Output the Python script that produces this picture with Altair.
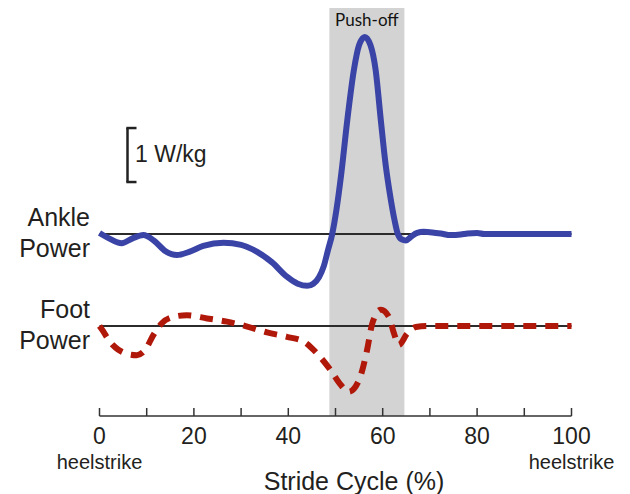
import altair as alt
import pandas as pd

# ---- data ----
tick_values = list(range(0, 101, 10))
tick_labels = [0, 20, 40, 60, 80, 100]

ankle_pct = [0, 2, 4.7, 7, 9.3, 11.5, 14, 16.4, 19, 22, 26.3, 30, 33.4, 36.5, 39.7, 42, 44,
             45.3, 46.5, 47.5, 48.4, 49.3, 50.2, 51.2, 52.5, 53.9, 55.0, 56.2, 57.4, 58.5,
             59.6, 60.6, 61.6, 62.5, 63.2, 64.0, 64.9, 66, 67.3, 68.7, 70.5, 72.3, 74.4,
             76.5, 78, 80, 81.5, 100]
ankle_power = [0.02, -0.08, -0.17, -0.08, -0.02, -0.12, -0.32, -0.39, -0.33, -0.22, -0.16,
               -0.2, -0.33, -0.52, -0.79, -0.92, -0.96, -0.92, -0.8, -0.6, -0.3, 0.0, 0.45,
               1.1, 2.11, 3.04, 3.5, 3.65, 3.5, 3.04, 2.11, 1.3, 0.7, 0.26, 0.0, -0.1, -0.12,
               -0.05, 0.02, 0.04, 0.03, 0.01, -0.02, -0.01, 0.01, 0.02, 0.0, 0.0]

foot_pct = [0, 0.8, 1.5, 2.8, 4, 6, 7.9, 9.7, 11.4, 13.2, 15.7, 18.5, 22.8, 27, 31.3, 35.5,
            39.7, 43.3, 46.1, 48.9, 51.1, 52.8, 55, 56.7, 57.8, 59.6, 61.3, 62.4, 63.4, 65.2,
            67, 69.5, 100]
foot_power = [0.0, -0.1, -0.2, -0.35, -0.44, -0.52, -0.54, -0.44, -0.17, 0.05, 0.17, 0.2,
              0.14, 0.08, -0.01, -0.12, -0.2, -0.29, -0.51, -0.81, -1.09, -1.22, -1.0, -0.44,
              0.05, 0.3, 0.17, -0.14, -0.35, -0.14, -0.02, 0.0, 0.0]

pushoff_start = 48.7
pushoff_end = 64.6
scale_bar_low = 4.333  # W/kg position of the scale bar bottom on the stacked axis

# ---- layout constants ----
ANKLE_OFFSET = 3.370
FOOT_OFFSET = 1.667
Y_MAX = 7.556
W, H = 472, 408
FONT = "Liberation Sans"
TXT = "#231f20"

xs = alt.Scale(domain=[0, 100], nice=False, zero=False)
ys = alt.Scale(domain=[0, Y_MAX], nice=False, zero=False)

ankle_df = pd.DataFrame({"pct": ankle_pct, "power": ankle_power})
ankle_df["y"] = ankle_df["power"] + ANKLE_OFFSET
foot_df = pd.DataFrame({"pct": foot_pct, "power": foot_power})
foot_df["y"] = foot_df["power"] + FOOT_OFFSET

band_df = pd.DataFrame({"start": [pushoff_start], "end": [pushoff_end], "label": ["Push-off"]})
zero_df = pd.DataFrame({"x0": [0, 0], "x1": [100, 100], "y": [ANKLE_OFFSET, FOOT_OFFSET],
                        "name": ["Ankle\nPower", "Foot\nPower"]})
ticks_df = pd.DataFrame({"t": tick_values})
labels_df = pd.DataFrame({"t": tick_labels, "s": [str(v) for v in tick_labels]})
heel_df = pd.DataFrame({"t": [0, 100], "s": ["heelstrike", "heelstrike"]})
axis_df = pd.DataFrame({"a": [0], "b": [100]})
bar_df = pd.DataFrame({"lo": [scale_bar_low], "hi": [scale_bar_low + 1], "label": ["1 W/kg"]})

band = alt.Chart(band_df).mark_rect(color="#d3d3d3").encode(
    x=alt.X("start:Q", scale=xs, axis=None), x2="end:Q",
    y=alt.value(-2), y2=alt.value(H))
band_text = alt.Chart(band_df).transform_calculate(
    mid="(datum.start + datum.end) / 2"
).mark_text(font="Lato", fontSize=17, color="#111", baseline="middle").encode(
    x=alt.X("mid:Q", scale=xs, axis=None), y=alt.value(12.7), text="label:N")

zero = alt.Chart(zero_df).mark_rule(color="#2b2b2b", strokeWidth=2).encode(
    x=alt.X("x0:Q", scale=xs, axis=None), x2="x1:Q",
    y=alt.Y("y:Q", scale=ys, axis=None))
zero_text = alt.Chart(zero_df).mark_text(
    font=FONT, fontSize=25, color=TXT, align="right", baseline="middle",
    lineBreak="\n", lineHeight=31, dy=-16).encode(
    x=alt.value(-9.5), y=alt.Y("y:Q", scale=ys, axis=None), text="name:N")

ankle = alt.Chart(ankle_df).mark_line(
    interpolate="monotone", color="#3a43a6", strokeWidth=6).encode(
    x=alt.X("pct:Q", scale=xs, axis=None), y=alt.Y("y:Q", scale=ys, axis=None))
foot = alt.Chart(foot_df).mark_line(
    interpolate="monotone", color="#b0180a", strokeWidth=6, strokeDash=[13, 9]).encode(
    x=alt.X("pct:Q", scale=xs, axis=None), y=alt.Y("y:Q", scale=ys, axis=None))

axis_line = alt.Chart(axis_df).mark_rule(color="#333", strokeWidth=1.5).encode(
    x=alt.X("a:Q", scale=xs, axis=None), x2="b:Q", y=alt.value(H))
ticks = alt.Chart(ticks_df).mark_rule(color="#333", strokeWidth=1.5).encode(
    x=alt.X("t:Q", scale=xs, axis=None), y=alt.value(H), y2=alt.value(H - 8))
tick_text = alt.Chart(labels_df).mark_text(
    font=FONT, fontSize=23, color=TXT, baseline="middle").encode(
    x=alt.X("t:Q", scale=xs, axis=None), y=alt.value(H + 21), text="s:N")
heel_text = alt.Chart(heel_df).mark_text(
    font=FONT, fontSize=20, color=TXT, baseline="middle").encode(
    x=alt.X("t:Q", scale=xs, axis=None), y=alt.value(H + 47), text="s:N")
title = alt.Chart(axis_df).mark_text(
    font=FONT, fontSize=25, color=TXT, baseline="middle", text="Stride Cycle (%)").encode(
    x=alt.value(254.5), y=alt.value(H + 66))

bar_v = alt.Chart(bar_df).mark_rule(color="#222", strokeWidth=2.5).encode(
    x=alt.value(28), y=alt.Y("lo:Q", scale=ys, axis=None), y2="hi:Q")
bar_lo = alt.Chart(bar_df).mark_rule(color="#222", strokeWidth=2.5).encode(
    x=alt.value(26.8), x2=alt.value(37), y=alt.Y("lo:Q", scale=ys, axis=None))
bar_hi = alt.Chart(bar_df).mark_rule(color="#222", strokeWidth=2.5).encode(
    x=alt.value(26.8), x2=alt.value(37), y=alt.Y("hi:Q", scale=ys, axis=None))
bar_text = alt.Chart(bar_df).transform_calculate(
    mid="(datum.lo + datum.hi) / 2"
).mark_text(font=FONT, fontSize=23, color=TXT, align="left", baseline="middle").encode(
    x=alt.value(35.5), y=alt.Y("mid:Q", scale=ys, axis=None), text="label:N")

chart = alt.layer(
    band, band_text, zero, zero_text, ankle, foot, axis_line, ticks, tick_text,
    heel_text, title, bar_v, bar_lo, bar_hi, bar_text
).properties(
    width=W, height=H, autosize="none",
    padding={"left": 91.5, "top": 0, "right": 50, "bottom": 78}
).configure_view(stroke=None)

chart.save("out.html", embed_options={"renderer": "svg", "actions": False})
